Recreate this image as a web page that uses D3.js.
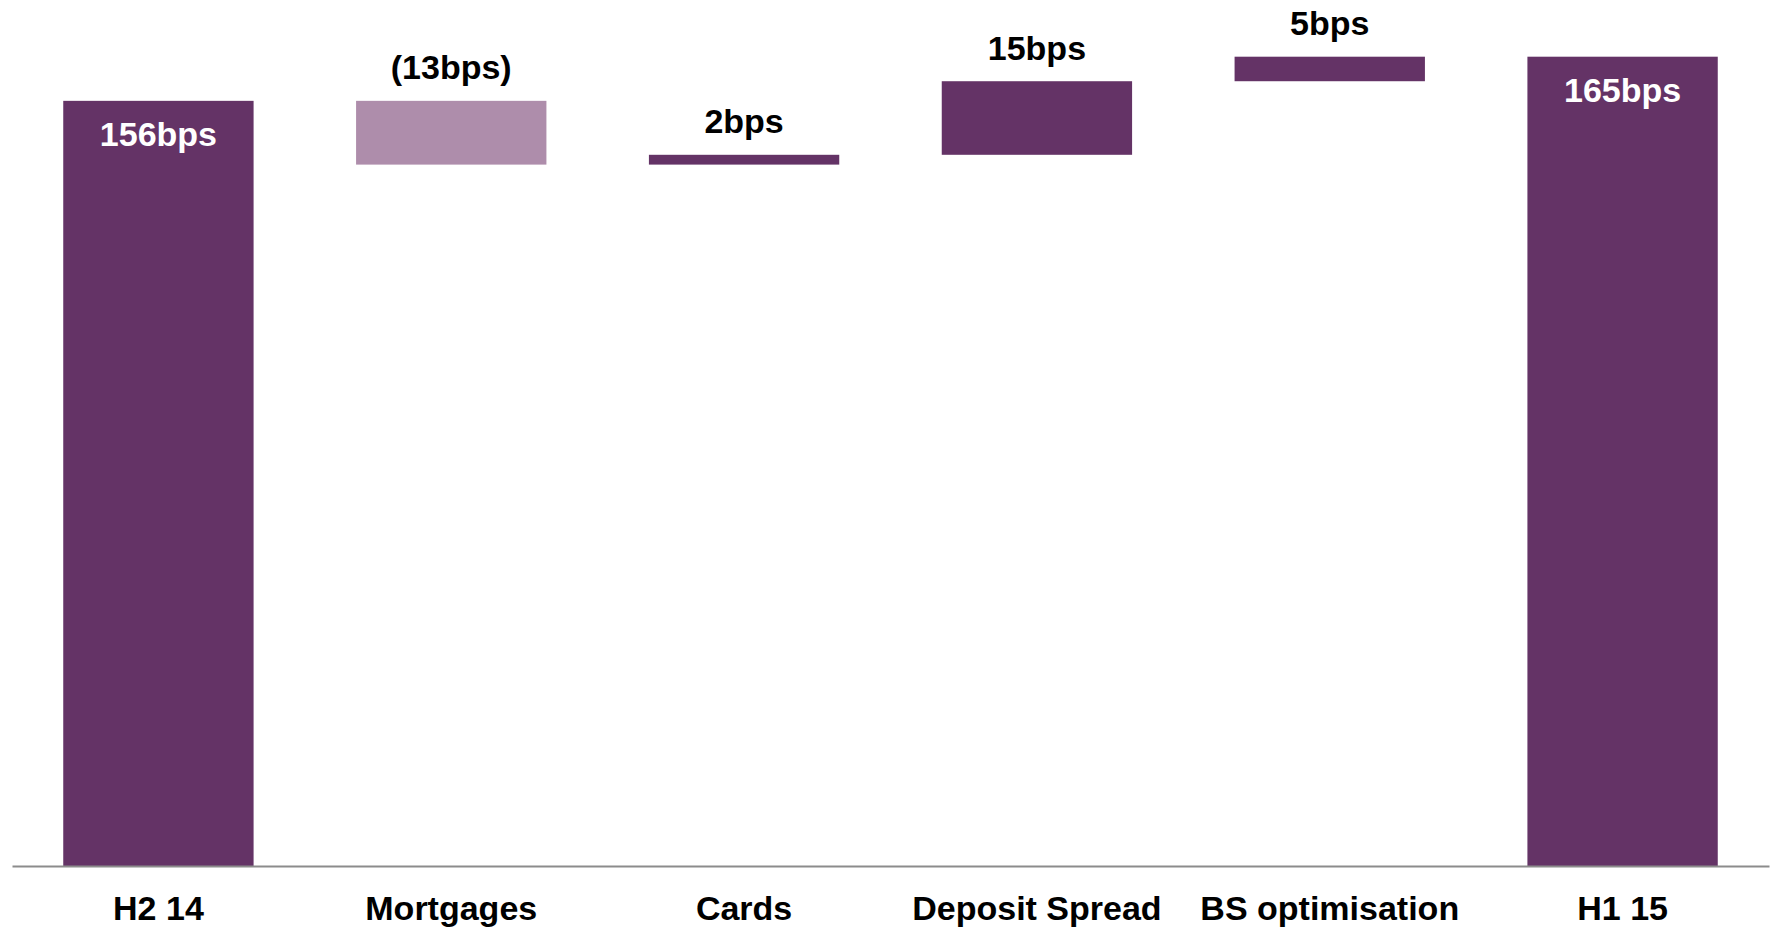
<!DOCTYPE html>
<html>
<head>
<meta charset="utf-8">
<script src="https://cdn.jsdelivr.net/npm/d3@7"></script>
<style>
  html, body { margin: 0; padding: 0; background: #ffffff; }
  svg { display: block; }
  text { font-family: "Liberation Sans", Arial, Helvetica, sans-serif; font-weight: bold; }
</style>
</head>
<body>
<svg id="chart" width="1770" height="930"></svg>
<script>
// Net interest margin bridge, H2 14 to H1 15 (basis points)
const categories = ["H2 14", "Mortgages", "Cards", "Deposit Spread", "BS optimisation", "H1 15"];
const values = [156, -13, 2, 15, 5, 165];
const isTotal = [true, false, false, false, false, true];

const colors = { total: "#643366", up: "#643366", down: "#AE8DAB" };

const W = 1770, H = 930;
const svg = d3.select("#chart");

const x = d3.scaleBand().domain(categories).range([12, 1769])
  .paddingInner(0.35).paddingOuter(0.175);
const y = d3.scaleLinear().domain([0, 165]).range([866, 56.7]);

// Build floating segments for the waterfall
let running = 0;
const bars = categories.map((c, i) => {
  const v = values[i];
  let start, end;
  if (isTotal[i]) { start = 0; end = v; running = v; }
  else { start = running; end = running + v; running = end; }
  return { cat: c, value: v, start, end, total: isTotal[i] };
});

const fmt = v => v < 0 ? `(${Math.abs(v)}bps)` : `${v}bps`;

svg.append("g").selectAll("rect")
  .data(bars)
  .join("rect")
  .attr("x", d => x(d.cat))
  .attr("width", x.bandwidth())
  .attr("y", d => y(Math.max(d.start, d.end)))
  .attr("height", d => Math.abs(y(d.start) - y(d.end)))
  .attr("fill", d => d.total ? colors.total : (d.value < 0 ? colors.down : colors.up));

// Value labels: inside for totals, above for movements
svg.append("g").selectAll("text")
  .data(bars)
  .join("text")
  .attr("x", d => x(d.cat) + x.bandwidth() / 2)
  .attr("y", d => d.total ? y(d.end) + 45 : y(Math.max(d.start, d.end)) - 21.5)
  .attr("text-anchor", "middle")
  .attr("font-size", 34)
  .attr("fill", d => d.total ? "#ffffff" : "#000000")
  .text(d => fmt(d.value));

// Category axis
const axis = svg.append("g")
  .attr("transform", `translate(0,${y(0)})`)
  .call(d3.axisBottom(x).tickSize(0).tickPadding(30));
axis.select(".domain").attr("stroke", "#8c8c8c").attr("stroke-width", 2);
axis.selectAll(".tick text")
  .attr("font-size", 34)
  .attr("font-family", "'Liberation Sans', Arial, Helvetica, sans-serif")
  .attr("font-weight", "bold")
  .attr("fill", "#000000");
</script>
</body>
</html>
